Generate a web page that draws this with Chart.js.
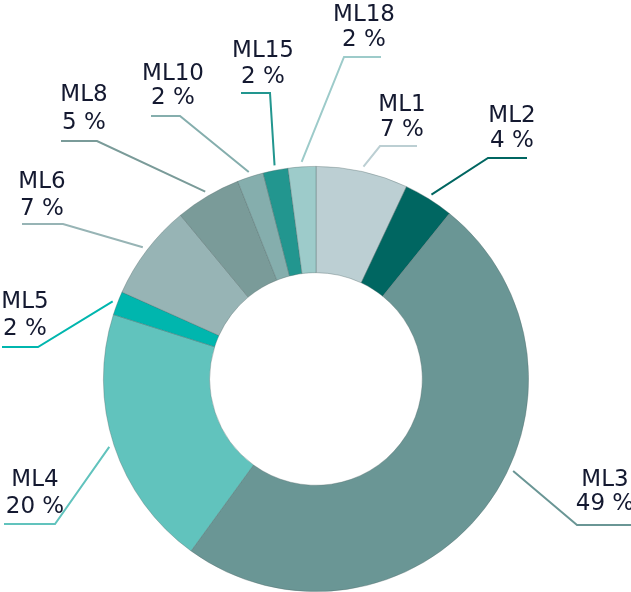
<!DOCTYPE html>
<html>
<head>
<meta charset="utf-8">
<script src="https://cdn.jsdelivr.net/npm/chart.js@4.4.1/dist/chart.umd.min.js"></script>
<style>
  html, body { margin: 0; padding: 0; background: #fff; }
  #wrap { position: relative; width: 631px; height: 592px; }
</style>
</head>
<body>
<div id="wrap"><canvas id="mlChart"></canvas></div>
<script>
// slice data, clockwise from the top
const categories = ['ML1', 'ML2', 'ML3', 'ML4', 'ML5', 'ML6', 'ML8', 'ML10', 'ML15', 'ML18'];
const shares = [7, 3.8, 49.2, 19.9, 1.8, 7.3, 5, 2, 1.9, 2.1];
const shareLabels = ['7 %', '4 %', '49 %', '20 %', '2 %', '7 %', '5 %', '2 %', '2 %', '2 %'];

const sliceColors = [
  '#bccfd3', '#006661', '#6a9695', '#61c3bd', '#00b6ae',
  '#97b4b5', '#7a9b99', '#85aead', '#22968f', '#9dcbca',
];

// where each callout label sits (elbow of the leader, end of the
// horizontal stroke, text centre and the two baselines)
const calloutLayout = [
  { elbow: [380, 146], endX: 417, textX: 402, lines: [111, 136] },
  { elbow: [488, 158], endX: 527, textX: 512, lines: [122, 147] },
  { elbow: [577, 525], endX: 631, textX: 605, lines: [486, 510], at: 0.43 },
  { elbow: [55, 524], endX: 4, textX: 35, lines: [486, 513] },
  { elbow: [38, 347], endX: 2, textX: 25, lines: [308, 335] },
  { elbow: [63, 224], endX: 22, textX: 42, lines: [188, 215] },
  { elbow: [97, 141], endX: 61, textX: 84, lines: [101, 129] },
  { elbow: [180, 116], endX: 151, textX: 173, lines: [80, 104] },
  { elbow: [270, 93], endX: 241, textX: 263, lines: [57, 83] },
  { elbow: [344, 57], endX: 381, textX: 364, lines: [21, 46] },
];

const calloutPlugin = {
  id: 'callouts',
  afterDatasetsDraw(chart) {
    const ctx = chart.ctx;
    const meta = chart.getDatasetMeta(0);
    ctx.save();
    meta.data.forEach((arc, i) => {
      const spot = calloutLayout[i];
      if (!spot) return;
      const p = arc.getProps(['x', 'y', 'startAngle', 'endAngle', 'outerRadius'], true);
      const f = spot.at == null ? 0.5 : spot.at;
      const angle = p.startAngle + (p.endAngle - p.startAngle) * f;
      const r = p.outerRadius + 5;
      const sx = p.x + Math.cos(angle) * r;
      const sy = p.y + Math.sin(angle) * r;

      ctx.strokeStyle = sliceColors[i];
      ctx.lineWidth = 2;
      ctx.beginPath();
      ctx.moveTo(sx, sy);
      ctx.lineTo(spot.elbow[0], spot.elbow[1]);
      ctx.lineTo(spot.endX, spot.elbow[1]);
      ctx.stroke();

      ctx.fillStyle = '#141930';
      ctx.font = '23px "DejaVu Sans"';
      ctx.textAlign = 'center';
      ctx.textBaseline = 'alphabetic';
      ctx.fillText(categories[i], spot.textX, spot.lines[0]);
      ctx.fillText(shareLabels[i], spot.textX, spot.lines[1]);
    });
    ctx.restore();
  },
};

new Chart(document.getElementById('mlChart'), {
  type: 'doughnut',
  data: {
    labels: categories,
    datasets: [{
      data: shares,
      backgroundColor: sliceColors,
      borderColor: 'rgba(80,105,105,0.45)',
      borderWidth: 0.8,
    }],
  },
  options: {
    responsive: true,
    maintainAspectRatio: false,
    animation: false,
    cutout: '50%',
    layout: {
      padding: { top: 166, left: 103, right: 102, bottom: 0 },
    },
    plugins: {
      legend: { display: false },
      tooltip: { enabled: false },
    },
  },
  plugins: [calloutPlugin],
});
</script>
</body>
</html>
